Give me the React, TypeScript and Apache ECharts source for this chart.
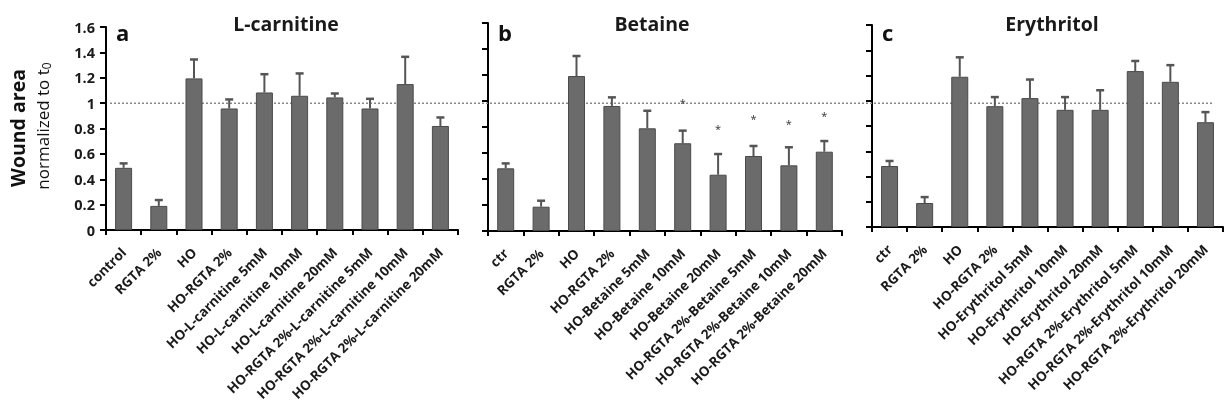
import React, { useEffect, useRef } from "react";
import * as echarts from "echarts";

const catsA = ["control", "RGTA 2%", "HO", "HO-RGTA 2%", "HO-L-carnitine 5mM", "HO-L-carnitine 10mM", "HO-L-carnitine 20mM", "HO-RGTA 2%-L-carnitine 5mM", "HO-RGTA 2%-L-carnitine 10mM", "HO-RGTA 2%-L-carnitine 20mM"];
const catsB = ["ctr", "RGTA 2%", "HO", "HO-RGTA 2%", "HO-Betaine 5mM", "HO-Betaine 10mM", "HO-Betaine 20mM", "HO-RGTA 2%-Betaine 5mM", "HO-RGTA 2%-Betaine 10mM", "HO-RGTA 2%-Betaine 20mM"];
const catsC = ["ctr", "RGTA 2%", "HO", "HO-RGTA 2%", "HO-Erythritol 5mM", "HO-Erythritol 10mM", "HO-Erythritol 20mM", "HO-RGTA 2%-Erythritol 5mM", "HO-RGTA 2%-Erythritol 10mM", "HO-RGTA 2%-Erythritol 20mM"];

const meanA = [0.49, 0.19, 1.195, 0.958, 1.084, 1.058, 1.045, 0.958, 1.15, 0.82];
const errA = [0.035, 0.046, 0.149, 0.071, 0.144, 0.176, 0.031, 0.076, 0.215, 0.067];
const meanB = [0.482, 0.187, 1.192, 0.962, 0.79, 0.675, 0.433, 0.577, 0.505, 0.61];
const errB = [0.038, 0.046, 0.154, 0.066, 0.135, 0.097, 0.159, 0.077, 0.139, 0.082];
const meanC = [0.483, 0.19, 1.19, 0.957, 1.021, 0.928, 0.928, 1.235, 1.15, 0.83];
const errC = [0.04, 0.047, 0.154, 0.072, 0.147, 0.101, 0.155, 0.08, 0.132, 0.08];
// asterisk positions (y value) for panel b; null = none
const starsB = [null, null, null, null, null, 1.013, 0.815, 0.89, 0.85, 0.913];

const titles = ["L-carnitine", "Betaine", "Erythritol"];
const letters = ["a", "b", "c"];
const yMin = 0;
const yMax = 1.6;
const yStep = 0.2;
const refValue = 1;

const FONT = "Open Sans";

export default function App() {
  const ref = useRef<HTMLDivElement>(null);
  useEffect(() => {
    if (!ref.current) return;
    const chart = echarts.init(ref.current, null, { renderer: "svg" });
    const grids = [
      { left: 106, width: 352, top: 27, height: 203 },
      { left: 488, width: 354, top: 23, height: 208 },
      { left: 872, width: 351, top: 25, height: 202 },
    ];
    const cats = [catsA, catsB, catsC];
    const means = [meanA, meanB, meanC];
    const errs = [errA, errB, errC];

    const xAxes = cats.map((c, i) => ({
      type: "category",
      gridIndex: i,
      data: c,
      axisLine: { lineStyle: { color: "#000", width: 2 } },
      axisTick: { show: true, length: 5, lineStyle: { color: "#000", width: 2 } },
      axisLabel: {
        rotate: 45,
        interval: 0,
        margin: 20,
        fontFamily: FONT,
        fontWeight: "bold",
        fontSize: 13.5,
        color: "#1a1a1a",
      },
    }));
    const yAxes = cats.map((_, i) => ({
      type: "value",
      gridIndex: i,
      min: yMin,
      max: yMax,
      interval: yStep,
      splitLine: { show: false },
      axisLine: { show: true, lineStyle: { color: "#000", width: 2 } },
      axisTick: { show: true, length: 6, lineStyle: { color: "#000", width: 2 } },
      axisLabel: {
        show: i === 0,
        margin: 11,
        fontFamily: FONT,
        fontWeight: "bold",
        fontSize: 14.5,
        color: "#1a1a1a",
      },
    }));

    const series: any[] = [];
    for (let i = 0; i < 3; i++) {
      series.push({
        type: "bar",
        xAxisIndex: i,
        yAxisIndex: i,
        data: means[i],
        barWidth: 17,
        itemStyle: { color: "#6b6b6b", borderColor: "#4a4a4a", borderWidth: 1 },
        z: 2,
      });
      series.push({
        type: "custom",
        xAxisIndex: i,
        yAxisIndex: i,
        z: 3,
        data: means[i].map((m, k) => [k, m, errs[i][k]]),
        encode: { x: 0, y: 1 },
        renderItem: (params: any, api: any) => {
          const x = api.value(0);
          const m = api.value(1);
          const e = api.value(2);
          const p0 = api.coord([x, m]);
          const p1 = api.coord([x, m + e]);
          const hw = 4;
          return {
            type: "group",
            children: [
              { type: "line", shape: { x1: p0[0], y1: p0[1], x2: p1[0], y2: p1[1] }, style: { stroke: "#555", lineWidth: 2 } },
              { type: "line", shape: { x1: p1[0] - hw, y1: p1[1], x2: p1[0] + hw, y2: p1[1] }, style: { stroke: "#555", lineWidth: 2.5 } },
            ],
          };
        },
      });
    }
    series.push({
      type: "custom",
      xAxisIndex: 1,
      yAxisIndex: 1,
      z: 4,
      data: starsB.map((s, k) => (s == null ? null : [k, s])).filter((d) => d !== null),
      encode: { x: 0, y: 1 },
      renderItem: (params: any, api: any) => {
        const p = api.coord([api.value(0), api.value(1)]);
        return {
          type: "text",
          style: { text: "*", x: p[0], y: p[1] + 3, align: "center", verticalAlign: "middle", fontSize: 11, fontFamily: FONT, fill: "#333" },
        };
      },
    });

    const baseGraphic: any[] = [];
    const titleX = [286, 652, 1052];
    const letterX = [116, 498, 882];
    for (let i = 0; i < 3; i++) {
      baseGraphic.push({
        type: "text",
        x: titleX[i],
        y: 23,
        style: { text: titles[i], align: "center", verticalAlign: "middle", fontFamily: FONT, fontWeight: "bold", fontSize: 19.5, fill: "#1a1a1a" },
      });
      baseGraphic.push({
        type: "text",
        x: letterX[i],
        y: 32,
        style: { text: letters[i], align: "left", verticalAlign: "middle", fontFamily: FONT, fontWeight: "bold", fontSize: 22, fill: "#111" },
      });
    }
    baseGraphic.push({
      type: "text",
      x: 17,
      y: 128,
      rotation: Math.PI / 2,
      style: { text: "Wound area", align: "center", verticalAlign: "middle", fontFamily: FONT, fontWeight: "bold", fontSize: 19.5, fill: "#111" },
    });
    baseGraphic.push({
      type: "text",
      x: 42,
      y: 126,
      rotation: Math.PI / 2,
      style: {
        text: "normalized to t{s|0}",
        align: "center",
        verticalAlign: "middle",
        fontFamily: FONT,
        fontSize: 17,
        fill: "#111",
        rich: { s: { fontSize: 12, fontFamily: FONT, fill: "#111", verticalAlign: "bottom", padding: [9, 0, 0, 0] } },
      },
    });

    chart.setOption({
      animation: false,
      grid: grids,
      xAxis: xAxes,
      yAxis: yAxes,
      series,
      graphic: baseGraphic,
    });

    const pA = chart.convertToPixel({ gridIndex: 0 }, [0, refValue]) as number[];
    const refY = pA[1];
    chart.setOption({
      graphic: [
        ...baseGraphic,
        {
          type: "line",
          z: 1,
          shape: { x1: 110, y1: refY, x2: 1213, y2: refY },
          style: { stroke: "#888", lineWidth: 1.5, lineDash: [2, 2] },
        },
      ],
    });

    return () => chart.dispose();
  }, []);
  return <div ref={ref} style={{ position: "fixed", left: 0, top: 0, width: 1225, height: 419 }} />;
}
